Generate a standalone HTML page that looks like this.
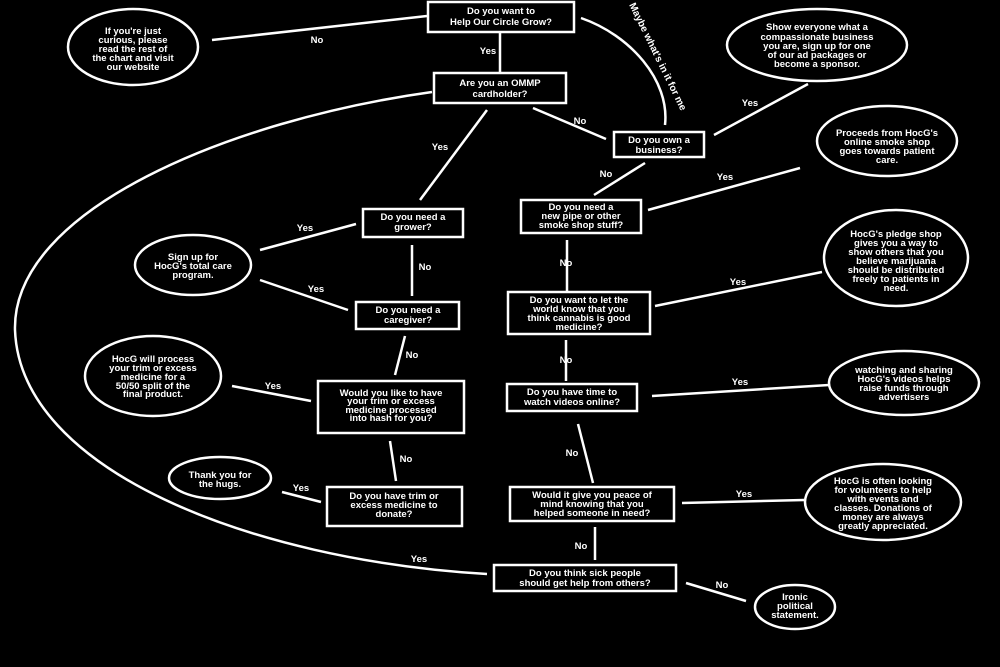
<!DOCTYPE html>
<html><head><meta charset="utf-8"><style>
html,body{margin:0;padding:0;background:#000;width:1000px;height:667px;overflow:hidden}
svg{display:block}
text{font-family:"Liberation Sans",sans-serif;font-weight:bold;font-size:9.5px;fill:#fff;text-anchor:middle}
.l{fill:none;stroke:#fff;stroke-width:2.5}
.b{fill:#000;stroke:#fff;stroke-width:2.5}
</style></head><body>
<svg width="1000" height="667" viewBox="0 0 1000 667">
<path class="l" d="M487,574 C250,560 20,470 15,330 C12,210 230,120 432,92"/>
<line class="l" x1="212" y1="40" x2="427" y2="16"/>
<line class="l" x1="500" y1="33" x2="500" y2="73"/>
<path class="l" d="M581,18 C630,35 670,80 665,125"/>
<line class="l" x1="533" y1="108" x2="606" y2="139"/>
<line class="l" x1="487" y1="110" x2="420" y2="200"/>
<line class="l" x1="645" y1="163" x2="594" y2="195"/>
<line class="l" x1="714" y1="135" x2="808" y2="84"/>
<line class="l" x1="648" y1="210" x2="800" y2="168"/>
<line class="l" x1="567" y1="240" x2="567" y2="292"/>
<line class="l" x1="655" y1="306" x2="822" y2="272"/>
<line class="l" x1="566" y1="340" x2="566" y2="381"/>
<line class="l" x1="652" y1="396" x2="829" y2="385"/>
<line class="l" x1="578" y1="424" x2="593" y2="483"/>
<line class="l" x1="682" y1="503" x2="804" y2="500"/>
<line class="l" x1="595" y1="527" x2="595" y2="560"/>
<line class="l" x1="686" y1="583" x2="746" y2="601"/>
<line class="l" x1="260" y1="250" x2="356" y2="224"/>
<line class="l" x1="260" y1="280" x2="348" y2="310"/>
<line class="l" x1="412" y1="245" x2="412" y2="296"/>
<line class="l" x1="405" y1="336" x2="395" y2="375"/>
<line class="l" x1="232" y1="386" x2="311" y2="401"/>
<line class="l" x1="390" y1="441" x2="396" y2="481"/>
<line class="l" x1="282" y1="492" x2="321" y2="502"/>
<text x="317" y="43">No</text>
<text x="488" y="54">Yes</text>
<text x="580" y="124">No</text>
<text x="440" y="150">Yes</text>
<text x="606" y="177">No</text>
<text x="750" y="106">Yes</text>
<text x="725" y="180">Yes</text>
<text x="305" y="231">Yes</text>
<text x="316" y="292">Yes</text>
<text x="425" y="270">No</text>
<text x="566" y="266">No</text>
<text x="738" y="285">Yes</text>
<text x="412" y="358">No</text>
<text x="566" y="363">No</text>
<text x="740" y="385">Yes</text>
<text x="273" y="389">Yes</text>
<text x="406" y="462">No</text>
<text x="572" y="456">No</text>
<text x="744" y="497">Yes</text>
<text x="301" y="491">Yes</text>
<text x="581" y="549">No</text>
<text x="419" y="562">Yes</text>
<text x="722" y="588">No</text>
<text transform="translate(655,58) rotate(64)" style="font-size:10px">Maybe what's in it for me</text>
<rect class="b" x="428" y="2" width="146" height="30"/>
<text x="501" y="14">Do you want to</text><text x="501" y="25">Help Our Circle Grow?</text>
<rect class="b" x="434" y="73" width="132" height="30"/>
<text x="500" y="86">Are you an OMMP</text><text x="500" y="97">cardholder?</text>
<rect class="b" x="614" y="132" width="90" height="25"/>
<text x="659" y="143">Do you own a</text><text x="659" y="153">business?</text>
<rect class="b" x="521" y="200" width="120" height="33"/>
<text x="581" y="210">Do you need a</text><text x="581" y="219">new pipe or other</text><text x="581" y="228">smoke shop stuff?</text>
<rect class="b" x="363" y="209" width="100" height="28"/>
<text x="413" y="220">Do you need a</text><text x="413" y="230">grower?</text>
<rect class="b" x="356" y="302" width="103" height="27"/>
<text x="408" y="313">Do you need a</text><text x="408" y="323">caregiver?</text>
<rect class="b" x="508" y="292" width="142" height="42"/>
<text x="579" y="303">Do you want to let the</text><text x="579" y="312">world know that you</text><text x="579" y="321">think cannabis is good</text><text x="579" y="330">medicine?</text>
<rect class="b" x="507" y="384" width="130" height="27"/>
<text x="572" y="395">Do you have time to</text><text x="572" y="405">watch videos online?</text>
<rect class="b" x="318" y="381" width="146" height="52"/>
<text x="391" y="396">Would you like to have</text><text x="391" y="404">your trim or excess</text><text x="391" y="413">medicine processed</text><text x="391" y="421">into hash for you?</text>
<rect class="b" x="510" y="487" width="164" height="34"/>
<text x="592" y="498">Would it give you peace of</text><text x="592" y="507">mind knowing that you</text><text x="592" y="516">helped someone in need?</text>
<rect class="b" x="327" y="487" width="135" height="39"/>
<text x="394" y="499">Do you have trim or</text><text x="394" y="508">excess medicine to</text><text x="394" y="517">donate?</text>
<rect class="b" x="494" y="565" width="182" height="26"/>
<text x="585" y="576">Do you think sick people</text><text x="585" y="586">should get help from others?</text>
<ellipse class="b" cx="133" cy="47" rx="65" ry="38"/>
<text x="133" y="34">If you're just</text><text x="133" y="43">curious, please</text><text x="133" y="52">read the rest of</text><text x="133" y="61">the chart and visit</text><text x="133" y="70">our website</text>
<ellipse class="b" cx="817" cy="45" rx="90" ry="36"/>
<text x="817" y="30">Show everyone what a</text><text x="817" y="40">compassionate business</text><text x="817" y="49">you are, sign up for one</text><text x="817" y="58">of our ad packages or</text><text x="817" y="67">become a sponsor.</text>
<ellipse class="b" cx="887" cy="141" rx="70" ry="35"/>
<text x="887" y="136">Proceeds from HocG's</text><text x="887" y="145">online smoke shop</text><text x="887" y="154">goes towards patient</text><text x="887" y="163">care.</text>
<ellipse class="b" cx="193" cy="265" rx="58" ry="30"/>
<text x="193" y="260">Sign up for</text><text x="193" y="269">HocG's total care</text><text x="193" y="278">program.</text>
<ellipse class="b" cx="896" cy="258" rx="72" ry="48"/>
<text x="896" y="237">HocG's pledge shop</text><text x="896" y="246">gives you a way to</text><text x="896" y="255">show others that you</text><text x="896" y="264">believe marijuana</text><text x="896" y="273">should be distributed</text><text x="896" y="282">freely to patients in</text><text x="896" y="291">need.</text>
<ellipse class="b" cx="153" cy="376" rx="68" ry="40"/>
<text x="153" y="362">HocG will process</text><text x="153" y="371">your trim or excess</text><text x="153" y="380">medicine for a</text><text x="153" y="389">50/50 split of the</text><text x="153" y="397">final product.</text>
<ellipse class="b" cx="904" cy="383" rx="75" ry="32"/>
<text x="904" y="373">watching and sharing</text><text x="904" y="382">HocG's videos helps</text><text x="904" y="391">raise funds through</text><text x="904" y="400">advertisers</text>
<ellipse class="b" cx="220" cy="478" rx="51" ry="21"/>
<text x="220" y="478">Thank you for</text><text x="220" y="487">the hugs.</text>
<ellipse class="b" cx="883" cy="502" rx="78" ry="38"/>
<text x="883" y="484">HocG is often looking</text><text x="883" y="493">for volunteers to help</text><text x="883" y="502">with events and</text><text x="883" y="511">classes. Donations of</text><text x="883" y="520">money are always</text><text x="883" y="529">greatly appreciated.</text>
<ellipse class="b" cx="795" cy="607" rx="40" ry="22"/>
<text x="795" y="600">Ironic</text><text x="795" y="609">political</text><text x="795" y="618">statement.</text>
</svg>
</body></html>
